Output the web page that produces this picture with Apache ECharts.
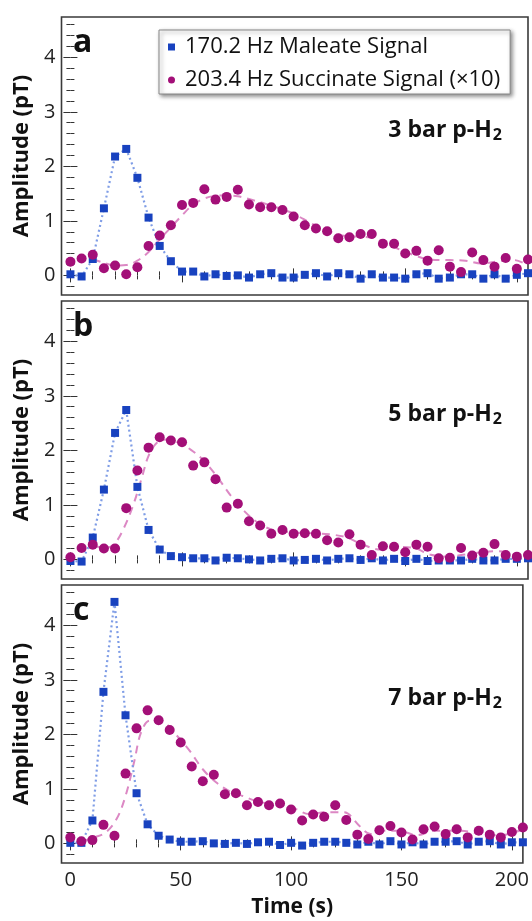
<!DOCTYPE html>
<html><head><meta charset="utf-8">
<script src="https://cdn.jsdelivr.net/npm/echarts@6/dist/echarts.min.js"></script>
<style>html,body{margin:0;padding:0;background:#fff}#c{width:532px;height:921px}</style>
</head><body><div id="c"></div>
<script>
// ---- data ----
const times = [0,5,10,15,20,25,30,35,40,45,50,55,60,65,70,75,80,85,90,95,100,105,110,115,120,125,130,135,140,145,150,155,160,165,170,175,180,185,190,195,200,205];

const maleateA = [0.02,-0.02,0.30,1.23,2.18,2.32,1.79,1.06,0.54,0.26,0.07,0.07,-0.02,0.02,-0.01,0.00,-0.04,0.02,0.04,-0.04,-0.04,0.01,0.04,-0.02,0.04,0.02,-0.06,0.02,-0.04,-0.04,-0.06,0.02,0.04,-0.06,-0.04,0.02,0.02,-0.06,0.02,-0.06,0.01,0.04];
const succinateA = [0.25,0.31,0.38,0.13,0.18,0.02,0.15,0.54,0.73,0.92,1.29,1.33,1.58,1.39,1.44,1.57,1.30,1.25,1.25,1.20,1.08,0.92,0.86,0.81,0.68,0.70,0.76,0.76,0.58,0.58,0.40,0.45,0.27,0.46,0.16,0.06,0.42,0.28,0.16,0.32,0.12,0.29];
const fitTimesA = [10,15,20,25,30,35,40,45,50,55,60,65,70,75,80,90,100,108,116,124,131,138,146,154,161,170,177,184,192,199,205];
const fitA = [0.30,0.23,0.18,0.19,0.27,0.43,0.66,0.88,1.10,1.30,1.41,1.46,1.47,1.45,1.40,1.28,1.13,0.95,0.80,0.72,0.71,0.66,0.50,0.37,0.29,0.28,0.27,0.22,0.26,0.28,0.18];

const maleateB = [-0.03,-0.04,0.40,1.28,2.32,2.74,1.33,0.54,0.18,0.06,0.04,0.02,0.02,-0.02,0.03,0.02,0.00,-0.02,0.01,0.02,-0.02,-0.01,0.01,-0.02,0.01,0.02,-0.01,0.02,-0.02,0.01,-0.03,0.01,-0.03,-0.02,-0.02,-0.02,0.01,-0.02,-0.02,0.01,0.01,0.02];
const succinateB = [0.04,0.21,0.27,0.20,0.20,0.94,1.63,2.05,2.24,2.18,2.15,1.72,1.78,1.47,0.95,1.02,0.70,0.62,0.47,0.54,0.47,0.48,0.47,0.35,0.31,0.46,0.27,0.08,0.24,0.23,0.13,0.27,0.23,0.02,0.03,0.21,0.07,0.12,0.28,0.08,0.05,0.08];
const fitTimesB = [10,16,20,24,28,32,35,39,43,48,54,60,66,72,78,84,90,96,102,108,116,124,131,139,146,154,161,169,177,184,192,199,205];
const fitB = [0.25,0.21,0.30,0.58,0.98,1.50,1.90,2.15,2.20,2.15,2.01,1.80,1.50,1.16,0.88,0.67,0.55,0.51,0.49,0.48,0.46,0.40,0.27,0.18,0.23,0.21,0.09,0.05,0.09,0.13,0.15,0.09,0.06];

const maleateC = [0.01,0.01,0.42,2.78,4.43,2.35,0.92,0.35,0.14,0.07,0.03,0.03,0.04,0.00,-0.01,0.01,-0.01,0.02,0.03,-0.03,0.01,-0.04,0.01,0.03,0.03,0.01,-0.02,0.03,-0.02,0.04,-0.02,0.02,-0.02,0.03,0.03,0.04,-0.02,0.03,0.04,-0.02,0.02,0.02];
const succinateC = [0.11,0.04,0.06,0.34,0.14,1.28,2.11,2.44,2.26,2.08,1.85,1.41,1.14,1.26,0.90,0.92,0.70,0.76,0.70,0.73,0.62,0.42,0.53,0.49,0.70,0.43,0.16,0.08,0.24,0.32,0.20,0.07,0.26,0.31,0.17,0.26,0.11,0.23,0.16,0.11,0.21,0.29];
const fitTimesC = [5,11,16,21,25,29,32,36,41,47,54,60,66,72,78,84,90,96,102,108,116,124,131,136,142,149,157,165,177,186,195,205];
const fitC = [0.03,0.11,0.20,0.45,0.87,1.51,2.03,2.25,2.25,2.03,1.70,1.36,1.12,0.96,0.87,0.78,0.73,0.70,0.63,0.54,0.57,0.57,0.32,0.17,0.23,0.23,0.15,0.23,0.23,0.17,0.15,0.26];

const xMajorTicks = [0,50,100,150,200];
const xMinorTicks = [10,20,30,40,60,70,80,90,110,120,130,140,160,170,180,190];
const yMajorTicks = [0,1,2,3,4];
const yMinorTicks = [-0.2,0.2,0.4,0.6,0.8,1.2,1.4,1.6,1.8,2.2,2.4,2.6,2.8,3.2,3.4,3.6,3.8,4.2,4.4,4.6];
const panelLetters = ['a','b','c'];
const pressures = ['3 bar p-H','5 bar p-H','7 bar p-H'];
const seriesNames = ['170.2 Hz Maleate Signal','203.4 Hz Succinate Signal (×10)'];

// ---- layout / style ----
const FONT = 'Open Sans';
const BLUE = '#1842bf', BLUE_LINE = '#7f9de6', MAG = '#a30f78', MAG_LINE = '#dc88c4';
const X_MIN = -4, X_MAX = 205, Y_MIN = -0.36, Y_MAX = 4.74;
const gridTops = [17, 301, 585];
const GRID_H = 278;
const panelData = [
  {m: maleateA, s: succinateA, ft: fitTimesA, fv: fitA},
  {m: maleateB, s: succinateB, ft: fitTimesB, fv: fitB},
  {m: maleateC, s: succinateC, ft: fitTimesC, fv: fitC}
];

const grids = [], xAxes = [], yAxes = [], series = [], graphics = [];
const tickColor = '#333';

panelData.forEach((p, i) => {
  grids.push({left: 61.5, right: 4, top: gridTops[i], height: GRID_H, show: true,
    borderColor: '#3a3a3a', borderWidth: 1.6, backgroundColor: 'transparent'});
  const xBase = {gridIndex: i, type: 'value', min: X_MIN, max: X_MAX,
    axisLine: {show: false}, splitLine: {show: false}};
  ['bottom','top'].forEach(pos => {
    xAxes.push(Object.assign({}, xBase, {position: pos,
      axisTick: {inside: true, length: 7, lineStyle: {color: tickColor, width: 1}, customValues: xMajorTicks},
      axisLabel: {show: pos === 'bottom' && i === 2, customValues: xMajorTicks, fontFamily: FONT, fontSize: 20, color: '#222', margin: 7},
      name: (pos === 'bottom' && i === 2) ? 'Time (s)' : '', nameLocation: 'middle', nameGap: 34,
      nameTextStyle: {fontFamily: FONT, fontSize: 21, fontWeight: 'bold', color: '#111'}}));
    xAxes.push(Object.assign({}, xBase, {position: pos,
      axisTick: {inside: true, length: 4, lineStyle: {color: tickColor, width: 1}, customValues: xMinorTicks},
      axisLabel: {show: false}}));
  });
  const yBase = {gridIndex: i, type: 'value', min: Y_MIN, max: Y_MAX,
    axisLine: {show: false}, splitLine: {show: false}};
  ['left','right'].forEach(pos => {
    yAxes.push(Object.assign({}, yBase, {position: pos,
      axisTick: {inside: true, length: 7, lineStyle: {color: tickColor, width: 1}, customValues: yMajorTicks},
      axisLabel: {show: pos === 'left', customValues: yMajorTicks, fontFamily: FONT, fontSize: 20, color: '#222', margin: 6},
      name: pos === 'left' ? 'Amplitude (pT)' : '', nameLocation: 'middle', nameGap: 26,
      nameTextStyle: {fontFamily: FONT, fontSize: 22, fontWeight: 'bold', color: '#111'}}));
    yAxes.push(Object.assign({}, yBase, {position: pos,
      axisTick: {inside: true, length: 4, lineStyle: {color: tickColor, width: 1}, customValues: yMinorTicks},
      axisLabel: {show: false}}));
  });
  const xi = i * 4, yi = i * 4;
  series.push({type: 'line', name: 'fit' + i, xAxisIndex: xi, yAxisIndex: yi,
    data: p.ft.map((t, k) => [t, p.fv[k]]), smooth: 0.35, showSymbol: false, silent: true,
    lineStyle: {color: MAG_LINE, width: 2, type: [8, 6]}, z: 2});
  series.push({type: 'line', name: seriesNames[0], xAxisIndex: xi, yAxisIndex: yi,
    data: times.map((t, k) => [t, p.m[k]]), symbol: 'rect', symbolSize: 8, showAllSymbol: true,
    itemStyle: {color: BLUE, opacity: 1}, lineStyle: {color: BLUE_LINE, width: 2.2, type: [2, 3]}, z: 3});
  series.push({type: 'scatter', name: seriesNames[1], xAxisIndex: xi, yAxisIndex: yi,
    data: times.map((t, k) => [t, p.s[k]]), symbol: 'circle', symbolSize: 10,
    itemStyle: {color: MAG, opacity: 1}, z: 4});

  graphics.push({type: 'text', left: 73, top: gridTops[i] + 10, z: 100,
    style: {text: panelLetters[i], font: 'bold 32px "' + FONT + '"', fill: '#111'}});
  graphics.push({type: 'text', right: 30, top: gridTops[i] + 100, z: 100,
    style: {text: '{m|' + pressures[i] + '}{s|2}',
      rich: {m: {fontFamily: FONT, fontSize: 23, fontWeight: 'bold', fill: '#111', lineHeight: 27},
             s: {fontFamily: FONT, fontSize: 16, fontWeight: 'bold', fill: '#111', lineHeight: 27, padding: [10, 0, 0, 1]}}}});
});

const chart = echarts.init(document.getElementById('c'), null, {renderer: 'canvas'});
chart.setOption({
  animation: false,
  backgroundColor: '#fff',
  grid: grids, xAxis: xAxes, yAxis: yAxes, series: series, graphic: graphics,
  legend: {
    data: [{name: seriesNames[0], icon: 'rect'}, {name: seriesNames[1], icon: 'circle'}],
    orient: 'vertical', left: 159, top: 30, selectedMode: false,
    itemWidth: 7, itemHeight: 7, itemGap: 9,
    padding: [5, 10, 2, 9],
    backgroundColor: '#fff', borderColor: '#888', borderWidth: 1,
    shadowBlur: 4, shadowColor: 'rgba(0,0,0,0.45)', shadowOffsetX: 2, shadowOffsetY: 2,
    textStyle: {fontFamily: FONT, fontSize: 22, color: '#111', lineHeight: 24, padding: [0, 0, 0, 5]}
  }
});
</script></body></html>
